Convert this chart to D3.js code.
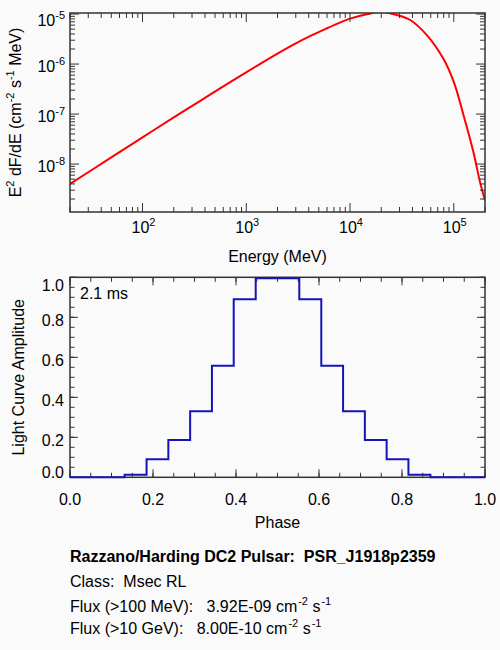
<!DOCTYPE html>
<html>
<head>
<meta charset="utf-8">
<script src="https://cdn.jsdelivr.net/npm/d3@7"></script>
<style>
  body { margin: 0; background: #fafafa; }
  text { font-family: "Liberation Sans", Arial, Helvetica, sans-serif; fill: #000; white-space: pre; }
</style>
</head>
<body>
<div id="chart"></div>
<script>
// spectrum (MeV, E^2 dF/dE)
var energyMeV = [20, 50, 100, 200, 360, 700, 1350, 2000, 2850, 4200, 6000, 8000, 10000, 14500, 20000, 28000, 38000, 55000, 79000, 100000, 124000, 154000, 179000, 200000];
var spectrum = [3.99e-9, 1.36e-8, 3.43e-8, 8.55e-8, 1.84e-7, 4.35e-7, 1.0e-6, 1.62e-6, 2.45e-6, 3.7e-6, 5.2e-6, 6.75e-6, 8.1e-6, 9.9e-6, 1.11e-5, 9.6e-6, 7.6e-6, 3.8e-6, 1.3e-6, 4.4e-7, 9.6e-8, 1.8e-8, 4.4e-9, 1.9e-9];

// light curve, histogram bin centres and amplitudes
var phaseBins = [0.000, 0.053, 0.105, 0.158, 0.211, 0.263, 0.316, 0.368, 0.421, 0.474, 0.526, 0.579, 0.632, 0.684, 0.737, 0.789, 0.842, 0.895, 0.947, 1.000];
var amplitude = [0, 0, 0, 0.013, 0.09, 0.186, 0.33, 0.558, 0.89, 0.995, 0.995, 0.89, 0.558, 0.33, 0.186, 0.09, 0.013, 0, 0, 0];

var energyTicks = [100, 1000, 10000, 100000];
var energyExp = ["2", "3", "4", "5"];
var fluxTicks = [1e-8, 1e-7, 1e-6, 1e-5];
var fluxExp = ["-8", "-7", "-6", "-5"];
var phaseTicks = [0, 0.2, 0.4, 0.6, 0.8, 1.0];
var ampTicks = [0, 0.2, 0.4, 0.6, 0.8, 1.0];

var pulsarName = "Razzano/Harding DC2 Pulsar:  PSR_J1918p2359";
var pulsarClass = "Class:  Msec RL";
var fluxLabels = ["Flux (>100 MeV):   3.92E-09 cm", "Flux (>10 GeV):   8.00E-10 cm"];
var periodLabel = "2.1 ms";

var width = 500, height = 650;
var axisColor = "#333";
var left = 70, right = 485;
var top1 = 13, bottom1 = 212;
var top2 = 277.3, bottom2 = 477.3;

var svg = d3.select("#chart").append("svg")
    .attr("width", width)
    .attr("height", height);

svg.append("rect").attr("width", width).attr("height", height).attr("fill", "#fafafa");

var x1 = d3.scaleLog().domain([20, 2e5]).range([left, right]);
var y1 = d3.scaleLog().domain([1.1e-9, 1.05e-5]).range([bottom1, top1]);
var x2 = d3.scaleLinear().domain([0, 1]).range([left, right]);
var y2 = d3.scaleLinear().domain([0, 1]).range([bottom2, top2]);

// inward ticks on bottom and top edges
function xTicks(scale, values, len, t, b) {
    var g = svg.append("g").attr("stroke", axisColor).attr("stroke-width", 1);
    values.forEach(function (d) {
        var px = scale(d);
        g.append("line").attr("x1", px).attr("x2", px).attr("y1", b).attr("y2", b - len);
        g.append("line").attr("x1", px).attr("x2", px).attr("y1", t).attr("y2", t + len);
    });
}

// inward ticks on left and right edges
function yTicks(scale, values, len, l, r) {
    var g = svg.append("g").attr("stroke", axisColor).attr("stroke-width", 1);
    values.forEach(function (d) {
        var py = scale(d);
        g.append("line").attr("y1", py).attr("y2", py).attr("x1", l).attr("x2", l + len);
        g.append("line").attr("y1", py).attr("y2", py).attr("x1", r).attr("x2", r - len);
    });
}

function frame(t, b) {
    svg.append("rect")
        .attr("x", left).attr("y", t)
        .attr("width", right - left).attr("height", b - t)
        .attr("fill", "none")
        .attr("stroke", axisColor)
        .attr("stroke-width", 1.5);
}

function powerLabel(px, py, exp, anchor) {
    var t = svg.append("text")
        .attr("x", px).attr("y", py)
        .attr("text-anchor", anchor)
        .attr("font-size", 16);
    t.append("tspan").text("10");
    t.append("tspan").attr("dy", -7).attr("font-size", 11).text(exp);
}

// end labels are pushed inside the axis span, like the original plot
function labelY(py, t, b) {
    return Math.max(t + 7.5, Math.min(b - 5.5, py + 2.5)) + 5.7;
}

// ---------- upper panel: spectrum ----------
var xMinor1 = x1.ticks().filter(function (d) { return energyTicks.indexOf(d) < 0; });
var yMinor1 = y1.ticks().filter(function (d) {
    return !fluxTicks.some(function (m) { return Math.abs(d / m - 1) < 1e-6; });
});

svg.append("clipPath").attr("id", "clip1").append("rect")
    .attr("x", left).attr("y", top1)
    .attr("width", right - left).attr("height", bottom1 - top1);

var specLine = d3.line()
    .x(function (d, i) { return x1(energyMeV[i]); })
    .y(function (d) { return y1(d); })
    .curve(d3.curveCatmullRom.alpha(0.5));

svg.append("path")
    .datum(spectrum)
    .attr("clip-path", "url(#clip1)")
    .attr("fill", "none")
    .attr("stroke", "#ff0000")
    .attr("stroke-width", 2)
    .attr("d", specLine);

xTicks(x1, energyTicks, 9, top1, bottom1);
xTicks(x1, xMinor1, 5, top1, bottom1);
yTicks(y1, fluxTicks, 9, left, right);
yTicks(y1, yMinor1, 5, left, right);
frame(top1, bottom1);

energyTicks.forEach(function (d, i) {
    powerLabel(x1(d) + 1, 232.5, energyExp[i], "middle");
});
fluxTicks.forEach(function (d, i) {
    powerLabel(65, labelY(y1(d), top1, bottom1), fluxExp[i], "end");
});

svg.append("text")
    .attr("x", (left + right) / 2).attr("y", 262)
    .attr("text-anchor", "middle")
    .attr("font-size", 16)
    .text("Energy (MeV)");

var yTitle1 = svg.append("text")
    .attr("transform", "translate(21," + (top1 + bottom1) / 2 + ") rotate(-90)")
    .attr("text-anchor", "middle")
    .attr("font-size", 16);
yTitle1.append("tspan").text("E");
yTitle1.append("tspan").attr("dy", -7).attr("font-size", 11).text("2");
yTitle1.append("tspan").attr("dy", 7).text(" dF/dE (cm");
yTitle1.append("tspan").attr("dy", -7).attr("font-size", 11).text("-2");
yTitle1.append("tspan").attr("dy", 7).text(" s");
yTitle1.append("tspan").attr("dy", -7).attr("font-size", 11).text("-1");
yTitle1.append("tspan").attr("dy", 7).text(" MeV)");

// ---------- lower panel: light curve ----------
var lcLine = d3.line()
    .x(function (d, i) { return x2(phaseBins[i]); })
    .y(function (d) { return y2(d); })
    .curve(d3.curveStep);

xTicks(x2, d3.range(0, 1.0001, 0.05), 4.5, top2, bottom2);
xTicks(x2, phaseTicks, 8, top2, bottom2);
yTicks(y2, d3.range(0, 1.0001, 0.05), 4.5, left, right);
yTicks(y2, ampTicks, 8, left, right);
frame(top2, bottom2);

svg.append("path")
    .datum(amplitude)
    .attr("fill", "none")
    .attr("stroke", "#1414b8")
    .attr("stroke-width", 2)
    .attr("d", lcLine);

phaseTicks.forEach(function (d) {
    svg.append("text")
        .attr("x", x2(d)).attr("y", 505)
        .attr("text-anchor", "middle")
        .attr("font-size", 16)
        .text(d3.format(".1f")(d));
});
ampTicks.forEach(function (d) {
    svg.append("text")
        .attr("x", 64).attr("y", labelY(y2(d), top2, bottom2))
        .attr("text-anchor", "end")
        .attr("font-size", 16)
        .text(d3.format(".1f")(d));
});

svg.append("text")
    .attr("x", (left + right) / 2).attr("y", 528)
    .attr("text-anchor", "middle")
    .attr("font-size", 16)
    .text("Phase");

svg.append("text")
    .attr("transform", "translate(23.5," + (top2 + bottom2) / 2 + ") rotate(-90)")
    .attr("text-anchor", "middle")
    .attr("font-size", 16)
    .text("Light Curve Amplitude");

svg.append("text")
    .attr("x", 80).attr("y", 298.5)
    .attr("font-size", 16)
    .text(periodLabel);

// ---------- source info ----------
svg.append("text")
    .attr("x", 70).attr("y", 562.3)
    .attr("font-size", 16)
    .attr("font-weight", "bold")
    .text(pulsarName);

svg.append("text")
    .attr("x", 70).attr("y", 587.3)
    .attr("font-size", 16)
    .text(pulsarClass);

fluxLabels.forEach(function (s, i) {
    var t = svg.append("text")
        .attr("x", 70).attr("y", 612.3 + i * 21.7)
        .attr("font-size", 16);
    t.append("tspan").text(s);
    t.append("tspan").attr("dx", 1).attr("dy", -7).attr("font-size", 11).text("-2");
    t.append("tspan").attr("dy", 7).text(" s");
    t.append("tspan").attr("dx", 1).attr("dy", -7).attr("font-size", 11).text("-1");
});
</script>
</body>
</html>
